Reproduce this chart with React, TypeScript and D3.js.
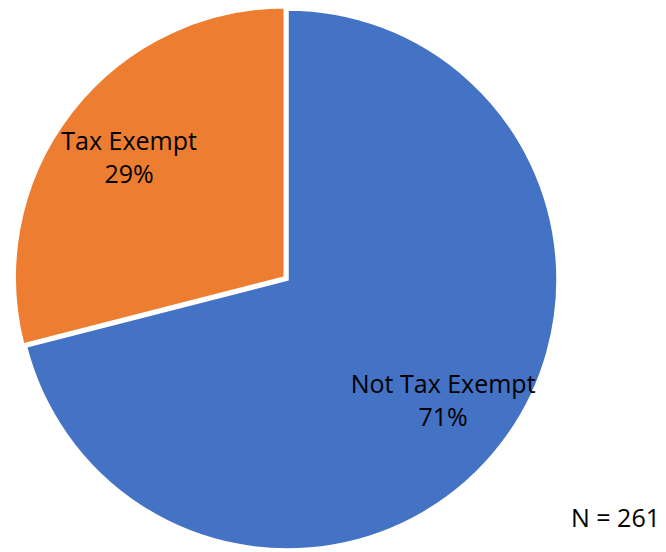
import React from "react";
import * as d3 from "d3";

const categories = ["Not Tax Exempt", "Tax Exempt"];
const percents = [71, 29];
const colors = ["#4472C4", "#ED7D31"];
const explode = [0, 3.5];
const noteText = "N = 261";

export default function App() {
  const W = 666, H = 552;
  const cx = 287.5, cy = 279.5, R = 270, labelR = 197;
  const pie = d3.pie<number>().sort(null).value((d) => d)(percents);
  const arc = d3.arc<d3.PieArcDatum<number>>().innerRadius(0).outerRadius(R);
  const labelArc = d3.arc<d3.PieArcDatum<number>>().innerRadius(labelR).outerRadius(labelR);
  const font = "'Open Sans', 'Liberation Sans', sans-serif";
  return (
    <svg width={W} height={H} style={{ position: "absolute", left: 0, top: 0 }}>
      <rect width={W} height={H} fill="#fff" />
      {pie.map((p, i) => {
        const mid = (p.startAngle + p.endAngle) / 2;
        const dx = Math.sin(mid) * explode[i];
        const dy = -Math.cos(mid) * explode[i];
        const [lx, ly] = labelArc.centroid(p);
        return (
          <g key={i} transform={`translate(${cx + dx},${cy + dy})`}>
            <path d={arc(p) || ""} fill={colors[i]} stroke="#fff" strokeWidth={2.5} />
          </g>
        );
      })}
      {pie.map((p, i) => {
        const mid = (p.startAngle + p.endAngle) / 2;
        const dx = Math.sin(mid) * explode[i];
        const dy = -Math.cos(mid) * explode[i];
        const [lx, ly] = labelArc.centroid(p);
        return (
          <text key={"l" + i} x={cx + dx + lx} y={cy + dy + ly} textAnchor="middle" fontFamily={font} fontSize={25} fill="#000">
            <tspan x={cx + dx + lx} dy={-7}>{categories[i]}</tspan>
            <tspan x={cx + dx + lx} dy={33}>{percents[i] + "%"}</tspan>
          </text>
        );
      })}
      <text x={660} y={527} textAnchor="end" fontFamily={font} fontSize={25} fill="#000">{noteText}</text>
    </svg>
  );
}
